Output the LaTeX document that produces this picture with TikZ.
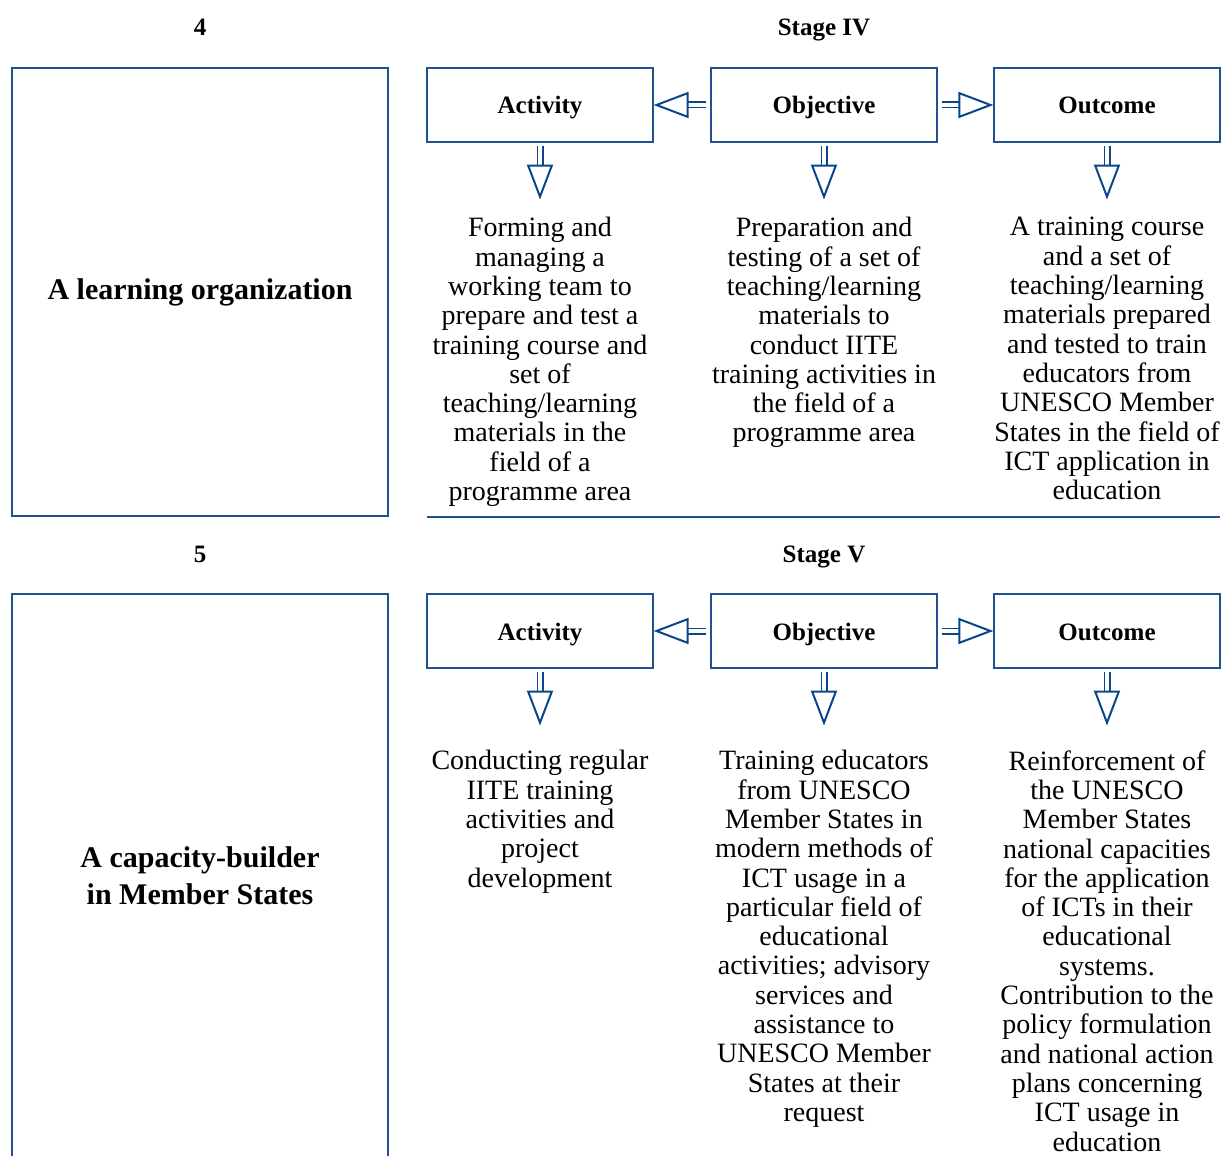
\documentclass[tikz,border=0pt]{standalone}
\usepackage{fontspec}
\setmainfont{Liberation Serif}
\usetikzlibrary{arrows.meta}
\definecolor{boxblue}{RGB}{32,82,145}
\definecolor{arrblue}{RGB}{10,70,140}

\begin{document}
\begin{tikzpicture}[x=0.5pt,y=-0.5pt,
    box/.style={draw=boxblue,line width=0.6pt,minimum width=113pt,minimum height=37pt,inner sep=0pt,text height=11.6pt,text depth=2.6pt,font=\fontsize{12.5}{14}\selectfont\bfseries},
    rolebox/.style={draw=boxblue,line width=0.6pt,minimum width=188pt,inner sep=0pt,align=center,font=\fontsize{15}{18.5}\selectfont\bfseries},
    body/.style={anchor=north,align=center,inner sep=0pt,font=\fontsize{14}{14.65}\selectfont},
    head/.style={text height=11.6pt,text depth=2.6pt,font=\fontsize{12.5}{14}\selectfont\bfseries},
    dblarrow/.style={draw=arrblue,line width=0.8pt,double=white,double distance=1.9pt,-{Triangle[open,length=17.5pt,width=13pt,line width=1pt]}}]

    \clip (0,0) rectangle (1223,1156);

    % stage IV
    \node[head]                          (num4)   at (200,27)   {4};
    \node[head]                          (stage4) at (824,27)   {Stage IV};
    \node[rolebox,minimum height=224pt]  (role4)  at (200,292)  {A learning organization};
    \node[box]                           (act4)   at (540,105)  {Activity};
    \node[box]                           (obj4)   at (824,105)  {Objective};
    \node[box]                           (out4)   at (1107,105) {Outcome};

    \node[body] (actText4) at (540,217)  {Forming and\\managing a\\working team to\\prepare and test a\\training course and\\set of\\teaching/learning\\materials in the\\field of a\\programme area};
    \node[body] (objText4) at (824,217)  {Preparation and\\testing of a set of\\teaching/learning\\materials to\\conduct IITE\\training activities in\\the field of a\\programme area};
    \node[body] (outText4) at (1107,217) {A training course\\and a set of\\teaching/learning\\materials prepared\\and tested to train\\educators from\\UNESCO Member\\States in the field of\\ICT application in\\education};

    \draw[dblarrow] ([xshift=-2pt]obj4.west) -- (act4.east);
    \draw[dblarrow] ([xshift=2pt]obj4.east) -- (out4.west);
    \draw[dblarrow] ([yshift=-1.5pt]act4.south) -- ++(0,54);
    \draw[dblarrow] ([yshift=-1.5pt]obj4.south) -- ++(0,54);
    \draw[dblarrow] ([yshift=-1.5pt]out4.south) -- ++(0,54);

    \draw[boxblue,line width=0.6pt] (427,517) -- (1220,517);

    % stage V
    \node[head]                          (num5)   at (200,553)  {5};
    \node[head]                          (stage5) at (824,553)  {Stage V};
    \node[rolebox,minimum height=288pt]  (role5)  at (200,882)  {};
    \node[rolebox,draw=none]             (name5)  at (200,876)  {A capacity-builder\\in Member States};
    \node[box]                           (act5)   at (540,631)  {Activity};
    \node[box]                           (obj5)   at (824,631)  {Objective};
    \node[box]                           (out5)   at (1107,631) {Outcome};

    \node[body] (actText5) at (540,750)  {Conducting regular\\IITE training\\activities and\\project\\development};
    \node[body] (objText5) at (824,750)  {Training educators\\from UNESCO\\Member States in\\modern methods of\\ICT usage in a\\particular field of\\educational\\activities; advisory\\services and\\assistance to\\UNESCO Member\\States at their\\request};
    \node[body] (outText5) at (1107,750) {Reinforcement of\\the UNESCO\\Member States\\national capacities\\for the application\\of ICTs in their\\educational\\systems.\\Contribution to the\\policy formulation\\and national action\\plans concerning\\ICT usage in\\education};

    \draw[dblarrow] ([xshift=-2pt]obj5.west) -- (act5.east);
    \draw[dblarrow] ([xshift=2pt]obj5.east) -- (out5.west);
    \draw[dblarrow] ([yshift=-1.5pt]act5.south) -- ++(0,54);
    \draw[dblarrow] ([yshift=-1.5pt]obj5.south) -- ++(0,54);
    \draw[dblarrow] ([yshift=-1.5pt]out5.south) -- ++(0,54);
\end{tikzpicture}
\end{document}
